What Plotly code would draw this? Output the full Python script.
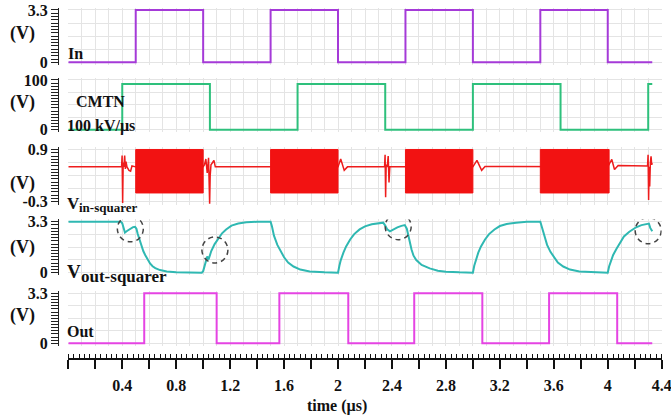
import plotly.graph_objects as go

# ---------------- data ----------------
in_t = [0.0, 0.5, 1.0, 1.5, 2.0, 2.5, 3.0, 3.5, 4.0, 4.33]
in_v = [0, 3.3, 0, 3.3, 0, 3.3, 0, 3.3, 0, 0]

cmtn_t = [0.0, 0.4, 1.05, 1.7, 2.35, 3.0, 3.65, 4.3, 4.33]
cmtn_v = [0, 92, 0, 92, 0, 92, 0, 92, 92]

vin_t = [0.0, 0.395, 0.399, 0.403, 0.407, 0.412, 0.418, 0.423, 0.428, 0.435, 0.45, 0.462, 0.472, 0.5,
         1.0, 1.01, 1.02, 1.03, 1.04, 1.048, 1.052, 1.058, 1.07, 1.08, 1.09, 1.5,
         2.0, 2.02, 2.046, 2.07, 2.345, 2.349, 2.353, 2.357, 2.365, 2.372, 2.378, 2.384, 2.5,
         3.0, 3.03, 3.065, 3.09, 3.5,
         4.0, 4.03, 4.05, 4.077, 4.295, 4.299, 4.303, 4.307, 4.311, 4.316, 4.321, 4.326, 4.33]
vin_v = [0.5, 0.5, 0.76, -0.33, 0.6, 0.5, 0.76, 0.45, 0.62, 0.5, 0.42, 0.4, 0.52, 0.5,
         0.5, 0.55, 0.68, 0.36, 0.71, -0.35, 0.3, 0.55, 0.6, 0.65, 0.5, 0.5,
         0.5, 0.68, 0.42, 0.5, 0.5, 0.78, -0.2, 0.55, 0.5, 0.75, 0.14, 0.5, 0.5,
         0.5, 0.65, 0.42, 0.51, 0.5,
         0.5, 0.67, 0.44, 0.53, 0.52, 0.78, -0.26, 0.5, 0.05, 0.6, 0.74, 0.55, 0.59]

burst_start = [0.5, 1.5, 2.5, 3.5]
burst_end = [1.0, 2.0, 3.0, 4.01]
burst_hi = 0.9
burst_lo = -0.1

vout_t = [0.0, 0.39, 0.40, 0.41, 0.42, 0.435, 0.45, 0.465, 0.48, 0.495, 0.505,
          0.515, 0.53, 0.545, 0.556, 0.57, 0.585, 0.606, 0.625, 0.645, 0.68, 0.73, 0.8, 0.9, 0.99,
          1.0, 1.015, 1.03, 1.04, 1.046, 1.06, 1.085, 1.11, 1.14, 1.17, 1.21, 1.26, 1.32, 1.4, 1.5,
          1.51, 1.525, 1.55, 1.575, 1.6, 1.63, 1.67, 1.72, 1.79, 1.9, 2.0,
          2.01, 2.02, 2.04, 2.06, 2.09, 2.12, 2.16, 2.2, 2.25, 2.3, 2.335,
          2.35, 2.365, 2.385, 2.41, 2.44, 2.47, 2.495, 2.51, 2.525, 2.545, 2.56, 2.58, 2.62, 2.68,
          2.74, 2.8, 2.9, 3.0,
          3.01, 3.02, 3.04, 3.06, 3.09, 3.12, 3.16, 3.2, 3.25, 3.32, 3.4, 3.5,
          3.51, 3.525, 3.55, 3.575, 3.6, 3.63, 3.67, 3.72, 3.79, 3.9, 4.0,
          4.01, 4.02, 4.04, 4.065, 4.09, 4.12, 4.16, 4.21, 4.25, 4.29, 4.305, 4.315, 4.33]
vout_v = [3.3, 3.3, 3.2, 2.8, 2.6, 2.7, 2.8, 2.88, 2.95, 2.97, 2.85,
          2.5, 2.05, 1.65, 1.4, 1.15, 0.88, 0.6, 0.42, 0.3, 0.17, 0.08, 0.03, 0.01, 0.0,
          0.1, 0.6, 1.05, 0.85, 1.0, 1.4, 1.85, 2.2, 2.55, 2.8, 3.05, 3.18, 3.26, 3.3, 3.3,
          3.0, 2.4, 1.8, 1.35, 1.0, 0.65, 0.4, 0.2, 0.07, 0.02, 0.0,
          0.45, 0.8, 1.3, 1.7, 2.15, 2.5, 2.8, 3.0, 3.13, 3.2, 3.24,
          3.05, 2.8, 2.68, 2.8, 2.93, 3.03, 3.08, 2.85, 2.25, 1.5, 1.1, 0.82, 0.5, 0.28,
          0.13, 0.06, 0.02, 0.0,
          0.45, 0.8, 1.3, 1.7, 2.15, 2.5, 2.8, 3.02, 3.15, 3.24, 3.29, 3.3,
          3.0, 2.4, 1.8, 1.35, 1.0, 0.65, 0.4, 0.2, 0.07, 0.02, 0.0,
          0.4, 0.7, 1.15, 1.55, 1.95, 2.35, 2.65, 2.94, 3.08, 3.16, 3.18, 2.9, 2.68]

glitch_t = [0.46, 1.087, 2.446, 4.30]
glitch_v = [2.84, 1.47, 2.98, 2.72]

out_t = [0.0, 0.563, 1.10, 1.565, 2.076, 2.565, 3.07, 3.565, 4.07, 4.33]
out_v = [0, 3.3, 0, 3.3, 0, 3.3, 0, 3.3, 0, 0]

ruler_ticks = [0, 0.2, 0.4, 0.6, 0.8, 1.0, 1.2, 1.4, 1.6, 1.8, 2.0, 2.2, 2.4, 2.6, 2.8,
               3.0, 3.2, 3.4, 3.6, 3.8, 4.0, 4.2, 4.4]
ruler_text = ['', '', '0.4', '', '0.8', '', '1.2', '', '1.6', '', '2', '', '2.4', '',
              '2.8', '', '3.2', '', '3.6', '', '4', '', '4.4']

# ---------------- helpers ----------------
W, H = 671, 418


def px(x):
    return x / W


def py(y):
    return 1 - y / H


FONT = 'Liberation Serif, Times New Roman, serif'


def f(size):
    return dict(family=FONT, size=size, color='#111111', weight='bold')


GRID = '#e4e4e4'
xdom = [68.3 / W, 661.7 / W]

fig = go.Figure()

fig.add_trace(go.Scatter(x=in_t, y=in_v, mode='lines', xaxis='x', yaxis='y',
                         line=dict(color='#a53ad8', width=2, shape='hv')))
fig.add_trace(go.Scatter(x=cmtn_t, y=cmtn_v, mode='lines', xaxis='x2', yaxis='y2',
                         line=dict(color='#2ec07c', width=2, shape='hv')))
fig.add_trace(go.Scatter(x=vin_t, y=vin_v, mode='lines', xaxis='x3', yaxis='y3',
                         line=dict(color='#ee1c1c', width=1.5)))
for s, e in zip(burst_start, burst_end):
    fig.add_trace(go.Scatter(x=[s, e, e, s, s], y=[burst_lo, burst_lo, burst_hi, burst_hi, burst_lo],
                             mode='lines', fill='toself', fillcolor='#f21212',
                             xaxis='x3', yaxis='y3', line=dict(color='#f21212', width=1)))
fig.add_trace(go.Scatter(x=vout_t, y=vout_v, mode='lines', xaxis='x4', yaxis='y4',
                         line=dict(color='#2fb8b2', width=2)))
fig.add_trace(go.Scatter(x=out_t, y=out_v, mode='lines', xaxis='x5', yaxis='y5',
                         line=dict(color='#e544e3', width=2, shape='hv')))
fig.add_trace(go.Scatter(x=[], y=[], mode='lines', xaxis='x6', yaxis='y6'))


def yax(top, bot, rng, tv, tt, mdt, mt0):
    return dict(domain=[py(bot), py(top)], range=rng, anchor='free', position=58 / W,
                tickmode='array', tickvals=tv, ticktext=tt, ticks='outside', ticklen=7,
                tickwidth=1, tickcolor='#222222', showline=True, linecolor='#222222',
                linewidth=1, showgrid=True, gridcolor=GRID, gridwidth=1, zeroline=False,
                tickfont=f(16), automargin=False,
                minor=dict(dtick=mdt, tick0=mt0, ticks='outside', ticklen=7, tickwidth=1,
                           tickcolor='#222222', showgrid=False))


def xax(anchor):
    return dict(domain=xdom, range=[0, 4.4], anchor=anchor, showticklabels=False, ticks='',
                showline=False, showgrid=True, gridcolor=GRID, gridwidth=1, dtick=0.1,
                tick0=0, zeroline=False, automargin=False)


layout = dict(
    width=W, height=H, autosize=False, margin=dict(l=0, r=0, t=0, b=0, autoexpand=False),
    paper_bgcolor='white', plot_bgcolor='white', showlegend=False,
    xaxis=xax('y'), xaxis2=xax('y2'), xaxis3=xax('y3'), xaxis4=xax('y4'), xaxis5=xax('y5'),
    yaxis=yax(7.6, 64.7, [-0.15, 3.45], [0, 0.825, 1.65, 2.475, 3.3], ['0', '', '', '', '3.3'],
              3.3 / 16, 0),
    yaxis2=yax(77.5, 132.2, [-5, 105], [0, 25, 50, 75, 100], ['0', '', '', '', '100'],
               100 / 16, 0),
    yaxis3=yax(147.3, 204.7, [-0.37, 0.95], [-0.3, 0.0, 0.3, 0.6, 0.9],
               ['-0.3', '', '', '', '0.9'], 1.2 / 16, -0.3),
    yaxis4=yax(219.4, 275.0, [-0.15, 3.45], [0, 0.825, 1.65, 2.475, 3.3], ['0', '', '', '', '3.3'],
               3.3 / 16, 0),
    yaxis5=yax(291.0, 345.6, [-0.15, 3.45], [0, 0.825, 1.65, 2.475, 3.3], ['0', '', '', '', '3.3'],
               3.3 / 16, 0),
    xaxis6=dict(domain=xdom, range=[0, 4.4], anchor='y6', tickmode='array',
                tickvals=ruler_ticks, ticktext=ruler_text, ticks='outside', ticklen=9,
                tickwidth=2, tickcolor='#111111', showline=True, linecolor='#111111',
                linewidth=2, showgrid=False, zeroline=False, tickfont=f(16),
                ticklabelstandoff=3, ticklabeloverflow='allow', automargin=False,
                minor=dict(dtick=0.04, tick0=0, ticks='inside', ticklen=4, tickwidth=1,
                           tickcolor='#111111', showgrid=False)),
    yaxis6=dict(domain=[py(358), py(355)], range=[0, 1], visible=False, anchor='x6'),
)
fig.update_layout(**layout)

ann = []


def label(text, x, y, size, xanchor='left'):
    ann.append(dict(text=text, x=px(x), y=py(y), xref='paper', yref='paper',
                    xanchor=xanchor, yanchor='middle', showarrow=False, font=f(size)))


for yy in [33, 102, 183, 247.5, 315.5]:
    label('(V)', 22.5, yy, 18, 'center')
label('In', 66, 53, 16)
label('CMTN', 74, 101.5, 16)
label('100 kV/µs', 65, 126, 16)
label('V', 65, 203, 17)
label('in-squarer', 77, 207, 13)
label('V', 65, 271, 19)
label('out-squarer', 79, 276, 17)
label('Out', 65, 331, 16)
label('time (µs)', 337, 406, 16, 'center')
fig.update_layout(annotations=ann)

for t, v in zip(glitch_t, glitch_v):
    fig.add_shape(type='circle', xref='x4', yref='y4', xsizemode='pixel', ysizemode='pixel',
                  xanchor=t, yanchor=v, x0=-13, x1=13, y0=-13, y1=13,
                  line=dict(color='#444444', width=1.5, dash='5px,4px'))

fig.write_html('out.html', config={'displayModeBar': False},
               post_script="document.body.style.margin='0px';")
